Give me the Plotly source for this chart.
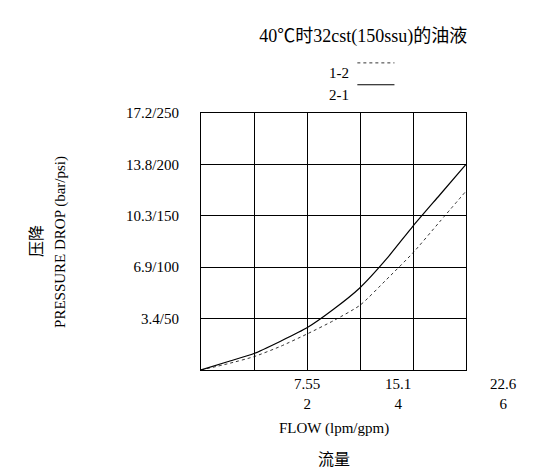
import plotly.graph_objects as go

flow_gpm = [0, 0.5, 1, 1.5, 2, 2.5, 3, 3.5, 4, 4.5, 5]
drop_21 = [0, 8, 16, 28, 41, 59, 80, 108, 140, 170, 200]
drop_12 = [0, 6, 13, 23, 35, 48, 63, 88, 114, 144, 174]

y_ticks = [50, 100, 150, 200, 250]
y_labels = ["3.4/50", "6.9/100", "10.3/150", "13.8/200", "17.2/250"]
x_ticks = [2, 4, 6]
x_lpm = ["7.55", "15.1", "22.6"]

font = "Liberation Serif, Noto Sans CJK SC"

fig = go.Figure()
fig.add_trace(go.Scatter(x=flow_gpm, y=drop_21, mode="lines", line=dict(color="black", width=1.2, shape="spline", smoothing=0.6), showlegend=False))
fig.add_trace(go.Scatter(x=flow_gpm, y=drop_12, mode="lines", line=dict(color="black", width=0.8, dash="dot", shape="spline", smoothing=0.6), showlegend=False))

# x tick labels (two lines, last one outside plot area)
for xv, lp in zip(x_ticks, x_lpm):
    fig.add_annotation(x=xv / 5, y=0, xref="paper", yref="paper", text=lp + "<br>" + str(xv), showarrow=False,
                       yanchor="top", yshift=-4, font=dict(size=15, family=font), align="center")

# legend
fig.add_annotation(x=0.52, y=1.195, xref="paper", yref="paper", text="1-2", showarrow=False, font=dict(size=15, family=font))
fig.add_annotation(x=0.52, y=1.11, xref="paper", yref="paper", text="2-1", showarrow=False, font=dict(size=15, family=font))
fig.add_shape(type="line", xref="paper", yref="paper", x0=0.59, x1=0.73, y0=1.195, y1=1.195, line=dict(color="black", width=0.8, dash="dot"))
fig.add_shape(type="line", xref="paper", yref="paper", x0=0.59, x1=0.73, y0=1.11, y1=1.11, line=dict(color="black", width=1.2))

# axis titles
fig.add_annotation(x=-0.66, y=0.5, xref="paper", yref="paper", text="压降", textangle=-90, showarrow=False, font=dict(size=16, family=font))
fig.add_annotation(x=-0.57, y=0.5, xref="paper", yref="paper", text="PRESSURE DROP (bar/psi)", textangle=-90, showarrow=False, font=dict(size=15, family=font))
fig.add_annotation(x=0.5, y=-0.27, xref="paper", yref="paper", text="FLOW (lpm/gpm)", showarrow=False, font=dict(size=15, family=font))
fig.add_annotation(x=0.5, y=-0.39, xref="paper", yref="paper", text="流量", showarrow=False, font=dict(size=16, family=font))

fig.update_xaxes(range=[0, 5], dtick=1, showticklabels=False, showgrid=True, gridcolor="black", gridwidth=1,
                 showline=True, linecolor="black", mirror=True, zeroline=False)
fig.update_yaxes(range=[0, 250], tickvals=y_ticks, ticktext=y_labels, showgrid=True, gridcolor="black", gridwidth=1,
                 showline=True, linecolor="black", mirror=True, zeroline=False, ticks="", ticklabelstandoff=18,
                 tickfont=dict(size=15, family=font))

fig.update_layout(
    width=555, height=475,
    margin=dict(l=193, r=97, t=105, b=113, autoexpand=False),
    plot_bgcolor="white", paper_bgcolor="white",
    title=dict(text="40℃时32cst(150ssu)的油液", x=0.64, y=0.955, xanchor="center",
               font=dict(size=18, family=font, color="black")),
    font=dict(family=font, color="black"),
)

fig.write_html("out.html")
